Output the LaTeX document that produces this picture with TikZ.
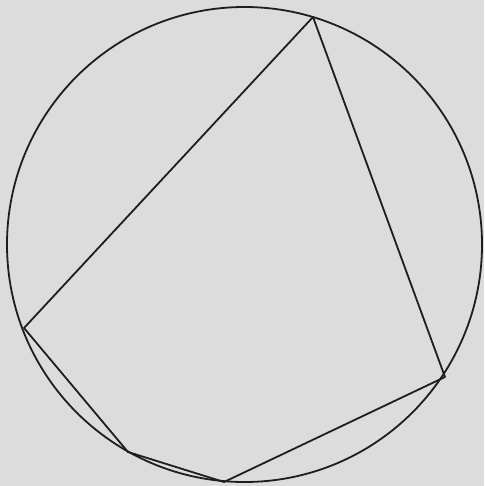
\documentclass[tikz,border=0pt]{standalone}
\definecolor{bg}{RGB}{220,220,220}
\definecolor{ink}{RGB}{30,30,30}
\tikzset{edge/.style={draw=ink,line width=1.8pt,line join=round}}
\begin{document}
\begin{tikzpicture}[x=1pt,y=-1pt]
\fill[bg] (0,0) rectangle (484,486);
\useasboundingbox (0,0) rectangle (484,486);
\coordinate (o) at (244.5,244.5);
\coordinate (a) at (313,17);
\coordinate (b) at (445,377);
\coordinate (c) at (224,482);
\coordinate (d) at (128,452);
\coordinate (e) at (24,328);
\draw[edge] (o) circle[radius=237.5];
\draw[edge] (a) -- (b) -- (c) -- (d) -- (e) -- cycle;
\end{tikzpicture}
\end{document}
